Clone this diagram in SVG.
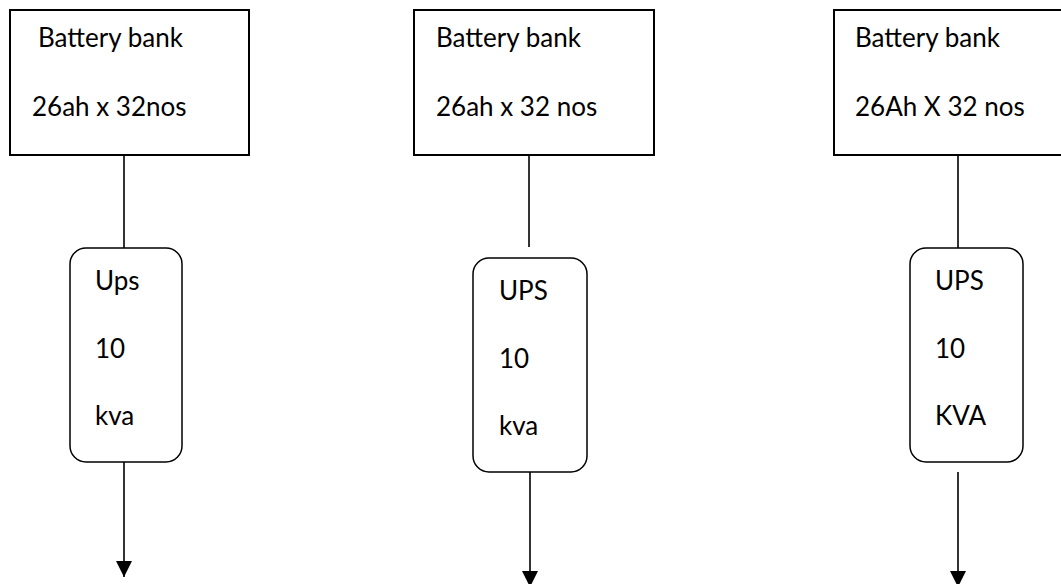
<svg xmlns="http://www.w3.org/2000/svg" width="1061" height="584" viewBox="0 0 1061 584">
<style>
.bat{fill:#fff;stroke:#000;stroke-width:2}
.ups{fill:#fff;stroke:#000;stroke-width:1.5}
.t{font-family:Lato,"Open Sans","Liberation Sans",sans-serif;font-size:26px;fill:#000}
.c{stroke:#000;stroke-width:1.6;fill:none}
</style>
<defs>
<marker id="ah" markerUnits="userSpaceOnUse" markerWidth="16" markerHeight="16" viewBox="0 0 16 16" refX="16" refY="8" orient="auto">
<path d="M0,0 L16,8 L0,16 Z" fill="#000"/>
</marker>
</defs>
<rect width="1061" height="584" fill="#fff"/>
<g id="connectors">
<line class="c" x1="124" y1="155" x2="124" y2="248"/>
<line class="c" x1="124" y1="462" x2="124" y2="577" marker-end="url(#ah)"/>
<line class="c" x1="529" y1="155" x2="529" y2="247"/>
<line class="c" x1="530" y1="472" x2="530" y2="587" marker-end="url(#ah)"/>
<line class="c" x1="958" y1="155" x2="958" y2="248"/>
<line class="c" x1="958" y1="472" x2="958" y2="587" marker-end="url(#ah)"/>
</g>
<g id="battery1">
<rect class="bat" x="10" y="10" width="239" height="145"/>
<text class="t" x="38" y="47">Battery bank</text>
<text class="t" x="32" y="116">26ah x 32nos</text>
</g>
<g id="ups1">
<rect class="ups" x="70" y="248" width="112" height="214" rx="16" ry="16"/>
<text class="t" x="95" y="290">Ups</text>
<text class="t" x="95" y="358">10</text>
<text class="t" x="95" y="425">kva</text>
</g>
<g id="battery2">
<rect class="bat" x="414" y="10" width="240" height="145"/>
<text class="t" x="436" y="47">Battery bank</text>
<text class="t" x="436" y="116">26ah x 32 nos</text>
</g>
<g id="ups2">
<rect class="ups" x="473" y="258" width="114" height="214" rx="16" ry="16"/>
<text class="t" x="499" y="300">UPS</text>
<text class="t" x="499" y="368">10</text>
<text class="t" x="499" y="435">kva</text>
</g>
<g id="battery3">
<rect class="bat" x="834" y="10" width="240" height="145"/>
<text class="t" x="855" y="47">Battery bank</text>
<text class="t" x="855" y="116">26Ah X 32 nos</text>
</g>
<g id="ups3">
<rect class="ups" x="910" y="248" width="113" height="214" rx="16" ry="16"/>
<text class="t" x="935" y="290">UPS</text>
<text class="t" x="935" y="358">10</text>
<text class="t" x="935" y="425">KVA</text>
</g>
</svg>
